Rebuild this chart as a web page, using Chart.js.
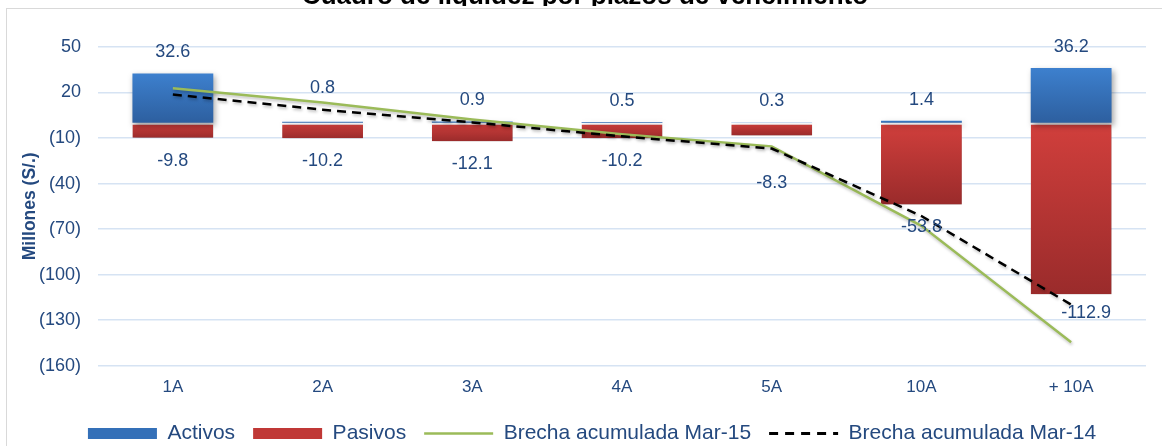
<!DOCTYPE html>
<html>
<head>
<meta charset="utf-8">
<script src="https://cdn.jsdelivr.net/npm/chart.js@4.4.1/dist/chart.umd.min.js"></script>
<style>
  html, body { margin: 0; padding: 0; background: #fff; overflow: hidden; }
  #frame { position: absolute; left: 6px; top: 8px; width: 1400px; height: 700px; border: 1px solid #d9d9d9; box-sizing: border-box; }
  #wrap { position: absolute; left: 0; top: 0; width: 1162px; height: 446px; }
</style>
</head>
<body>
<div id="frame"></div>
<div id="wrap"><canvas id="c" width="1162" height="446"></canvas></div>
<script>
const chartTitle = 'Cuadro de liquidez por plazos de vencimiento';
const axisTitle = 'Millones (S/.)';
const categories = ['1A', '2A', '3A', '4A', '5A', '10A', '+ 10A'];
const activos = [32.6, 0.8, 0.9, 0.5, 0.3, 1.4, 36.2];
const pasivos = [-9.8, -10.2, -12.1, -10.2, -8.3, -53.8, -112.9];
const brechaMar15 = [22.8, 13.4, 2.2, -7.5, -15.5, -67.9, -144.6];
const brechaMar14 = [18.7, 8.7, 0.3, -8.9, -16.9, -61.4, -119.8];
const yTicks = [50, 20, -10, -40, -70, -100, -130, -160];

const TXT = '#24497f';
const FONT = "'Liberation Sans', Arial, sans-serif";

function vGrad(ctx, top, bottom) {
  const chart = ctx.chart;
  const ys = chart.scales && chart.scales.y;
  if (!ys || ctx.type !== 'data' || !ctx.parsed) return top;
  const y0 = ys.getPixelForValue(0);
  const y1 = ys.getPixelForValue(ctx.parsed.y);
  const a = Math.min(y0, y1), b = Math.max(y0, y1);
  if (!isFinite(a) || !isFinite(b) || b - a < 0.5) return top;
  const g = chart.ctx.createLinearGradient(0, a, 0, b);
  g.addColorStop(0, top);
  g.addColorStop(1, bottom);
  return g;
}

const shadowPlugin = {
  id: 'shadow',
  beforeDatasetDraw(chart, args) {
    const ctx = chart.ctx;
    ctx.save();
    if (args.meta.type === 'bar') {
      ctx.shadowColor = 'rgba(0,0,0,0.35)';
      ctx.shadowBlur = 6;
      ctx.shadowOffsetX = 2;
      ctx.shadowOffsetY = 3;
    } else {
      ctx.shadowColor = 'rgba(0,0,0,0.25)';
      ctx.shadowBlur = 3;
      ctx.shadowOffsetX = 1;
      ctx.shadowOffsetY = 2;
    }
  },
  afterDatasetDraw(chart) {
    chart.ctx.restore();
  }
};

// label placement tweaks (pixels) keyed "dataset:index", mimicking manual moves in the original
const labelNudges = { '0:1': [0, -13], '1:4': [0, 25], '1:6': [15, -4] };

const labelPlugin = {
  id: 'barLabels',
  afterDatasetsDraw(chart) {
    const ctx = chart.ctx;
    ctx.save();
    ctx.font = '18px ' + FONT;
    ctx.fillStyle = TXT;
    ctx.textAlign = 'center';
    ctx.textBaseline = 'middle';
    [0, 1].forEach(di => {
      const meta = chart.getDatasetMeta(di);
      const vals = chart.data.datasets[di].data;
      meta.data.forEach((el, i) => {
        const v = vals[i];
        const n = labelNudges[di + ':' + i] || [0, 0];
        const y = (v >= 0 ? el.y - 21 : el.y + 23) + n[1];
        ctx.fillText(v.toFixed(1), el.x + n[0], y);
      });
    });
    ctx.restore();
  }
};

const titlePlugin = {
  id: 'clippedTitle',
  afterDraw(chart) {
    const ctx = chart.ctx;
    ctx.save();
    ctx.beginPath();
    ctx.rect(0, 0, chart.width, 6);
    ctx.clip();
    ctx.font = 'bold 26px ' + FONT;
    ctx.fillStyle = '#000';
    ctx.textAlign = 'center';
    ctx.textBaseline = 'alphabetic';
    ctx.fillText(chartTitle, 585, 4);
    ctx.restore();
  }
};

const legendShift = {
  id: 'legendShift',
  afterLayout(chart) {
    const lg = chart.legend;
    if (!lg) return;
    lg.left += 19; lg.right += 19;
    lg.top -= 5; lg.bottom -= 5;
  }
};

new Chart(document.getElementById('c'), {
  data: {
    labels: categories,
    datasets: [
      {
        type: 'bar', label: 'Activos', data: activos, order: 3,
        backgroundColor: (c) => vGrad(c, '#3d80ce', '#2d5f9f'),
        borderWidth: 0, grouped: false,
        categoryPercentage: 1, barPercentage: 0.54
      },
      {
        type: 'bar', label: 'Pasivos', data: pasivos, order: 3,
        backgroundColor: (c) => vGrad(c, '#d13f3c', '#9a2b2b'),
        borderColor: '#ffffff', borderSkipped: false,
        borderWidth: { top: 2, bottom: 0, left: 0, right: 0 },
        grouped: false, categoryPercentage: 1, barPercentage: 0.54
      },
      {
        type: 'line', label: 'Brecha acumulada Mar-15', data: brechaMar15, order: 2,
        borderColor: '#9bbb59', borderWidth: 2.4, pointRadius: 0, tension: 0, fill: false
      },
      {
        type: 'line', label: 'Brecha acumulada Mar-14', data: brechaMar14, order: 1,
        borderColor: '#000000', borderWidth: 2.5, borderDash: [9, 6], pointRadius: 0, tension: 0, fill: false
      }
    ]
  },
  options: {
    responsive: false,
    animation: false,
    layout: { padding: { top: 47, left: 0, right: 16, bottom: -13 } },
    plugins: {
      tooltip: { enabled: false },
      legend: {
        position: 'bottom',
        labels: {
          usePointStyle: true,
          pointStyleWidth: 69,
          boxHeight: 11,
          padding: 18,
          color: TXT,
          font: { size: 21, family: FONT },
          generateLabels(chart) {
            const ds = chart.data.datasets;
            return [
              { text: ds[0].label, fillStyle: '#3470b8', strokeStyle: '#3470b8', lineWidth: 0, pointStyle: 'rect', datasetIndex: 0, fontColor: TXT },
              { text: ds[1].label, fillStyle: '#c03836', strokeStyle: '#c03836', lineWidth: 0, pointStyle: 'rect', datasetIndex: 1, fontColor: TXT },
              { text: ds[2].label, fillStyle: '#9bbb59', strokeStyle: '#9bbb59', lineWidth: 2.5, pointStyle: 'line', datasetIndex: 2, fontColor: TXT },
              { text: ds[3].label, fillStyle: '#000', strokeStyle: '#000', lineWidth: 3, lineDash: [9, 7], pointStyle: 'line', datasetIndex: 3, fontColor: TXT }
            ];
          }
        }
      }
    },
    scales: {
      x: {
        offset: true,
        grid: { display: false, drawTicks: false },
        border: { display: false },
        ticks: { color: TXT, font: { size: 17, family: FONT }, padding: 12 }
      },
      y: {
        min: -160, max: 50,
        afterFit(scale) { scale.width = 98; },
        afterBuildTicks(scale) { scale.ticks = yTicks.map(v => ({ value: v })); },
        grid: { color: '#d6e3f3', lineWidth: 1.5, drawTicks: false },
        border: { display: false },
        ticks: {
          color: TXT, font: { size: 18, family: FONT }, padding: 17,
          callback: (v) => v < 0 ? '(' + (-v) + ')' : String(v)
        },
        title: {
          display: true, text: axisTitle, color: TXT,
          font: { size: 17.5, weight: 'bold', family: FONT },
          padding: { top: 20, bottom: 0 }
        }
      }
    }
  },
  plugins: [shadowPlugin, labelPlugin, titlePlugin, legendShift]
});
</script>
</body>
</html>
